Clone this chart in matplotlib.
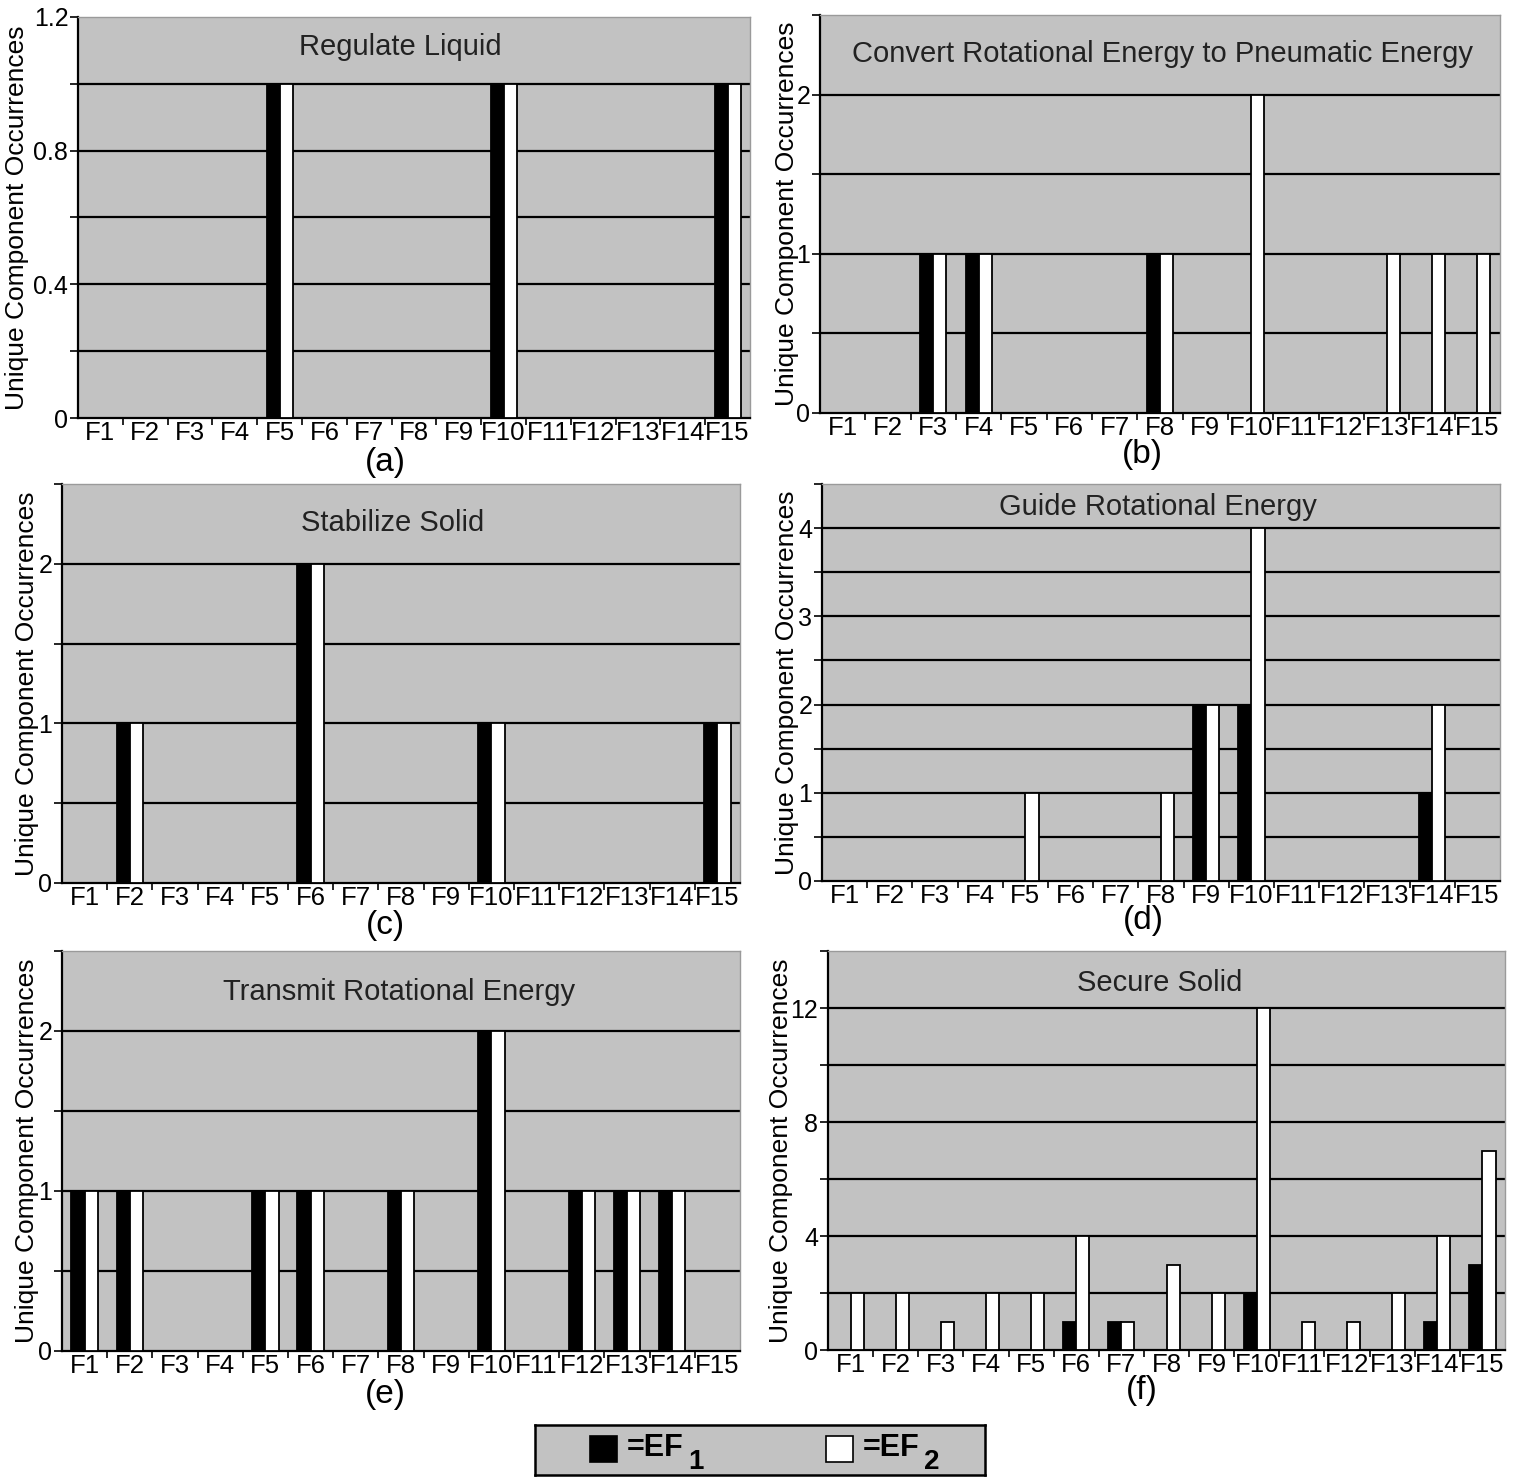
import matplotlib
matplotlib.use("Agg")
import matplotlib.pyplot as plt
import numpy as np
from matplotlib.ticker import MultipleLocator, FixedLocator

plt.rcParams['font.family'] = ['Liberation Sans', 'DejaVu Sans']

categories = [f"F{i}" for i in range(1, 16)]

titles = ["Regulate Liquid",
          "Convert Rotational Energy to Pneumatic Energy",
          "Stabilize Solid",
          "Guide Rotational Energy",
          "Transmit Rotational Energy",
          "Secure Solid"]
panel_labels = ["(a)", "(b)", "(c)", "(d)", "(e)", "(f)"]

#            F1 F2 F3 F4 F5 F6 F7 F8 F9 F10 F11 F12 F13 F14 F15
a_ef1 = [0, 0, 0, 0, 1, 0, 0, 0, 0, 1, 0, 0, 0, 0, 1]
a_ef2 = [0, 0, 0, 0, 1, 0, 0, 0, 0, 1, 0, 0, 0, 0, 1]
b_ef1 = [0, 0, 1, 1, 0, 0, 0, 1, 0, 0, 0, 0, 0, 0, 0]
b_ef2 = [0, 0, 1, 1, 0, 0, 0, 1, 0, 2, 0, 0, 1, 1, 1]
c_ef1 = [0, 1, 0, 0, 0, 2, 0, 0, 0, 1, 0, 0, 0, 0, 1]
c_ef2 = [0, 1, 0, 0, 0, 2, 0, 0, 0, 1, 0, 0, 0, 0, 1]
d_ef1 = [0, 0, 0, 0, 0, 0, 0, 0, 2, 2, 0, 0, 0, 1, 0]
d_ef2 = [0, 0, 0, 0, 1, 0, 0, 1, 2, 4, 0, 0, 0, 2, 0]
e_ef1 = [1, 1, 0, 0, 1, 1, 0, 1, 0, 2, 0, 1, 1, 1, 0]
e_ef2 = [1, 1, 0, 0, 1, 1, 0, 1, 0, 2, 0, 1, 1, 1, 0]
f_ef1 = [0, 0, 0, 0, 0, 1, 1, 0, 0, 2, 0, 0, 0, 1, 3]
f_ef2 = [2, 2, 1, 2, 2, 4, 1, 3, 2, 12, 1, 1, 2, 4, 7]

ef1_data = [a_ef1, b_ef1, c_ef1, d_ef1, e_ef1, f_ef1]
ef2_data = [a_ef2, b_ef2, c_ef2, d_ef2, e_ef2, f_ef2]

y_max = [1.2, 2.5, 2.5, 4.5, 2.5, 14]
y_major = [0.4, 1, 1, 1, 1, 4]
y_grid = [0.2, 0.5, 0.5, 0.5, 0.5, 2]

W, H = 1523, 1477
fig = plt.figure(figsize=(W / 100, H / 100), dpi=100)

# pixel boxes: left, right, top, bottom
boxes = [(78, 750, 17, 418), (820, 1500, 15, 413),
         (62, 740, 484, 883), (822, 1500, 484, 881),
         (62, 740, 951, 1351), (828, 1505, 951, 1350)]
title_pos = [(0.479, 0.925), (0.504, 0.902), (0.487, 0.902),
             (0.496, 0.942), (0.497, 0.897), (0.49, 0.92)]
label_pos = [(385, 462), (1142, 455), (385, 926), (1143, 921), (385, 1395), (1142, 1390)]
ylabel_x = [17, 787, 27, 787, 27, 781]

bg = '#c2c2c2'
bw = 0.29
x = np.arange(len(categories))

for i in range(6):
    l, r, t, b = boxes[i]
    ax = fig.add_axes([l / W, (H - b) / H, (r - l) / W, (b - t) / H])
    ax.set_facecolor(bg)
    ax.set_xlim(-0.5, len(categories) - 0.5)
    ax.set_ylim(0, y_max[i])
    g = y_grid[i]
    for yv in np.arange(g, y_max[i] - 1e-9, g):
        ax.axhline(yv, color='black', lw=1.6, zorder=1)
    ax.bar(x - bw / 2, ef1_data[i], width=bw, color='black', edgecolor='black',
           lw=1.3, zorder=3)
    ax.bar(x + bw / 2, ef2_data[i], width=bw, color='white', edgecolor='black',
           lw=1.3, zorder=3)
    ax.set_xticks(x)
    ax.set_xticklabels(categories, fontsize=18.5)
    ax.xaxis.set_minor_locator(FixedLocator(np.arange(0.5, len(categories) - 1, 1)))
    ax.tick_params(axis='x', which='major', length=0, pad=2)
    ax.tick_params(axis='x', which='minor', length=5, width=1.2, direction='out')
    ax.yaxis.set_major_locator(MultipleLocator(y_major[i]))
    ax.yaxis.set_minor_locator(MultipleLocator(g))
    if i == 0:
        ax.set_yticks([0, 0.4, 0.8, 1.2])
        ax.set_yticklabels(['0', '0.4', '0.8', '1.2'])
    ax.tick_params(axis='y', which='major', length=6, width=1.2, labelsize=18, pad=1)
    ax.tick_params(axis='y', which='minor', length=6, width=1.2)
    for s in ['left', 'bottom']:
        ax.spines[s].set_color('black')
        ax.spines[s].set_linewidth(1.6)
    for s in ['top', 'right']:
        ax.spines[s].set_color('#9a9a9a')
        ax.spines[s].set_linewidth(1.0)
    ax.text(title_pos[i][0], title_pos[i][1], titles[i], transform=ax.transAxes,
            ha='center', va='center', fontsize=21, color='#222222', zorder=5)
    fig.text(label_pos[i][0] / W, 1 - label_pos[i][1] / H, panel_labels[i],
             ha='center', va='center', fontsize=24)
    fig.text(ylabel_x[i] / W, 1 - ((t + b) / 2) / H, "Unique Component Occurrences",
             rotation=90, ha='center', va='center', fontsize=19)

# legend box
lax = fig.add_axes([535 / W, (H - 1475) / H, 450 / W, 50 / H])
lax.set_facecolor(bg)
lax.set_xlim(0, 450)
lax.set_ylim(0, 50)
lax.set_xticks([])
lax.set_yticks([])
for s in lax.spines.values():
    s.set_color('black')
    s.set_linewidth(1.8)
lax.add_patch(plt.Rectangle((55, 13), 27, 26, facecolor='black', edgecolor='black', lw=1.2))
lax.add_patch(plt.Rectangle((291, 13), 27, 26, facecolor='white', edgecolor='black', lw=1.2))
for x0, sub in [(92, '1'), (328, '2')]:
    lax.text(x0, 27, '=EF', fontsize=22, fontweight='bold', va='center', ha='left')
    lax.text(x0 + 61, 0, sub, fontsize=20, fontweight='bold', va='bottom', ha='left')

fig.savefig("out.png", dpi=100, facecolor='white')
